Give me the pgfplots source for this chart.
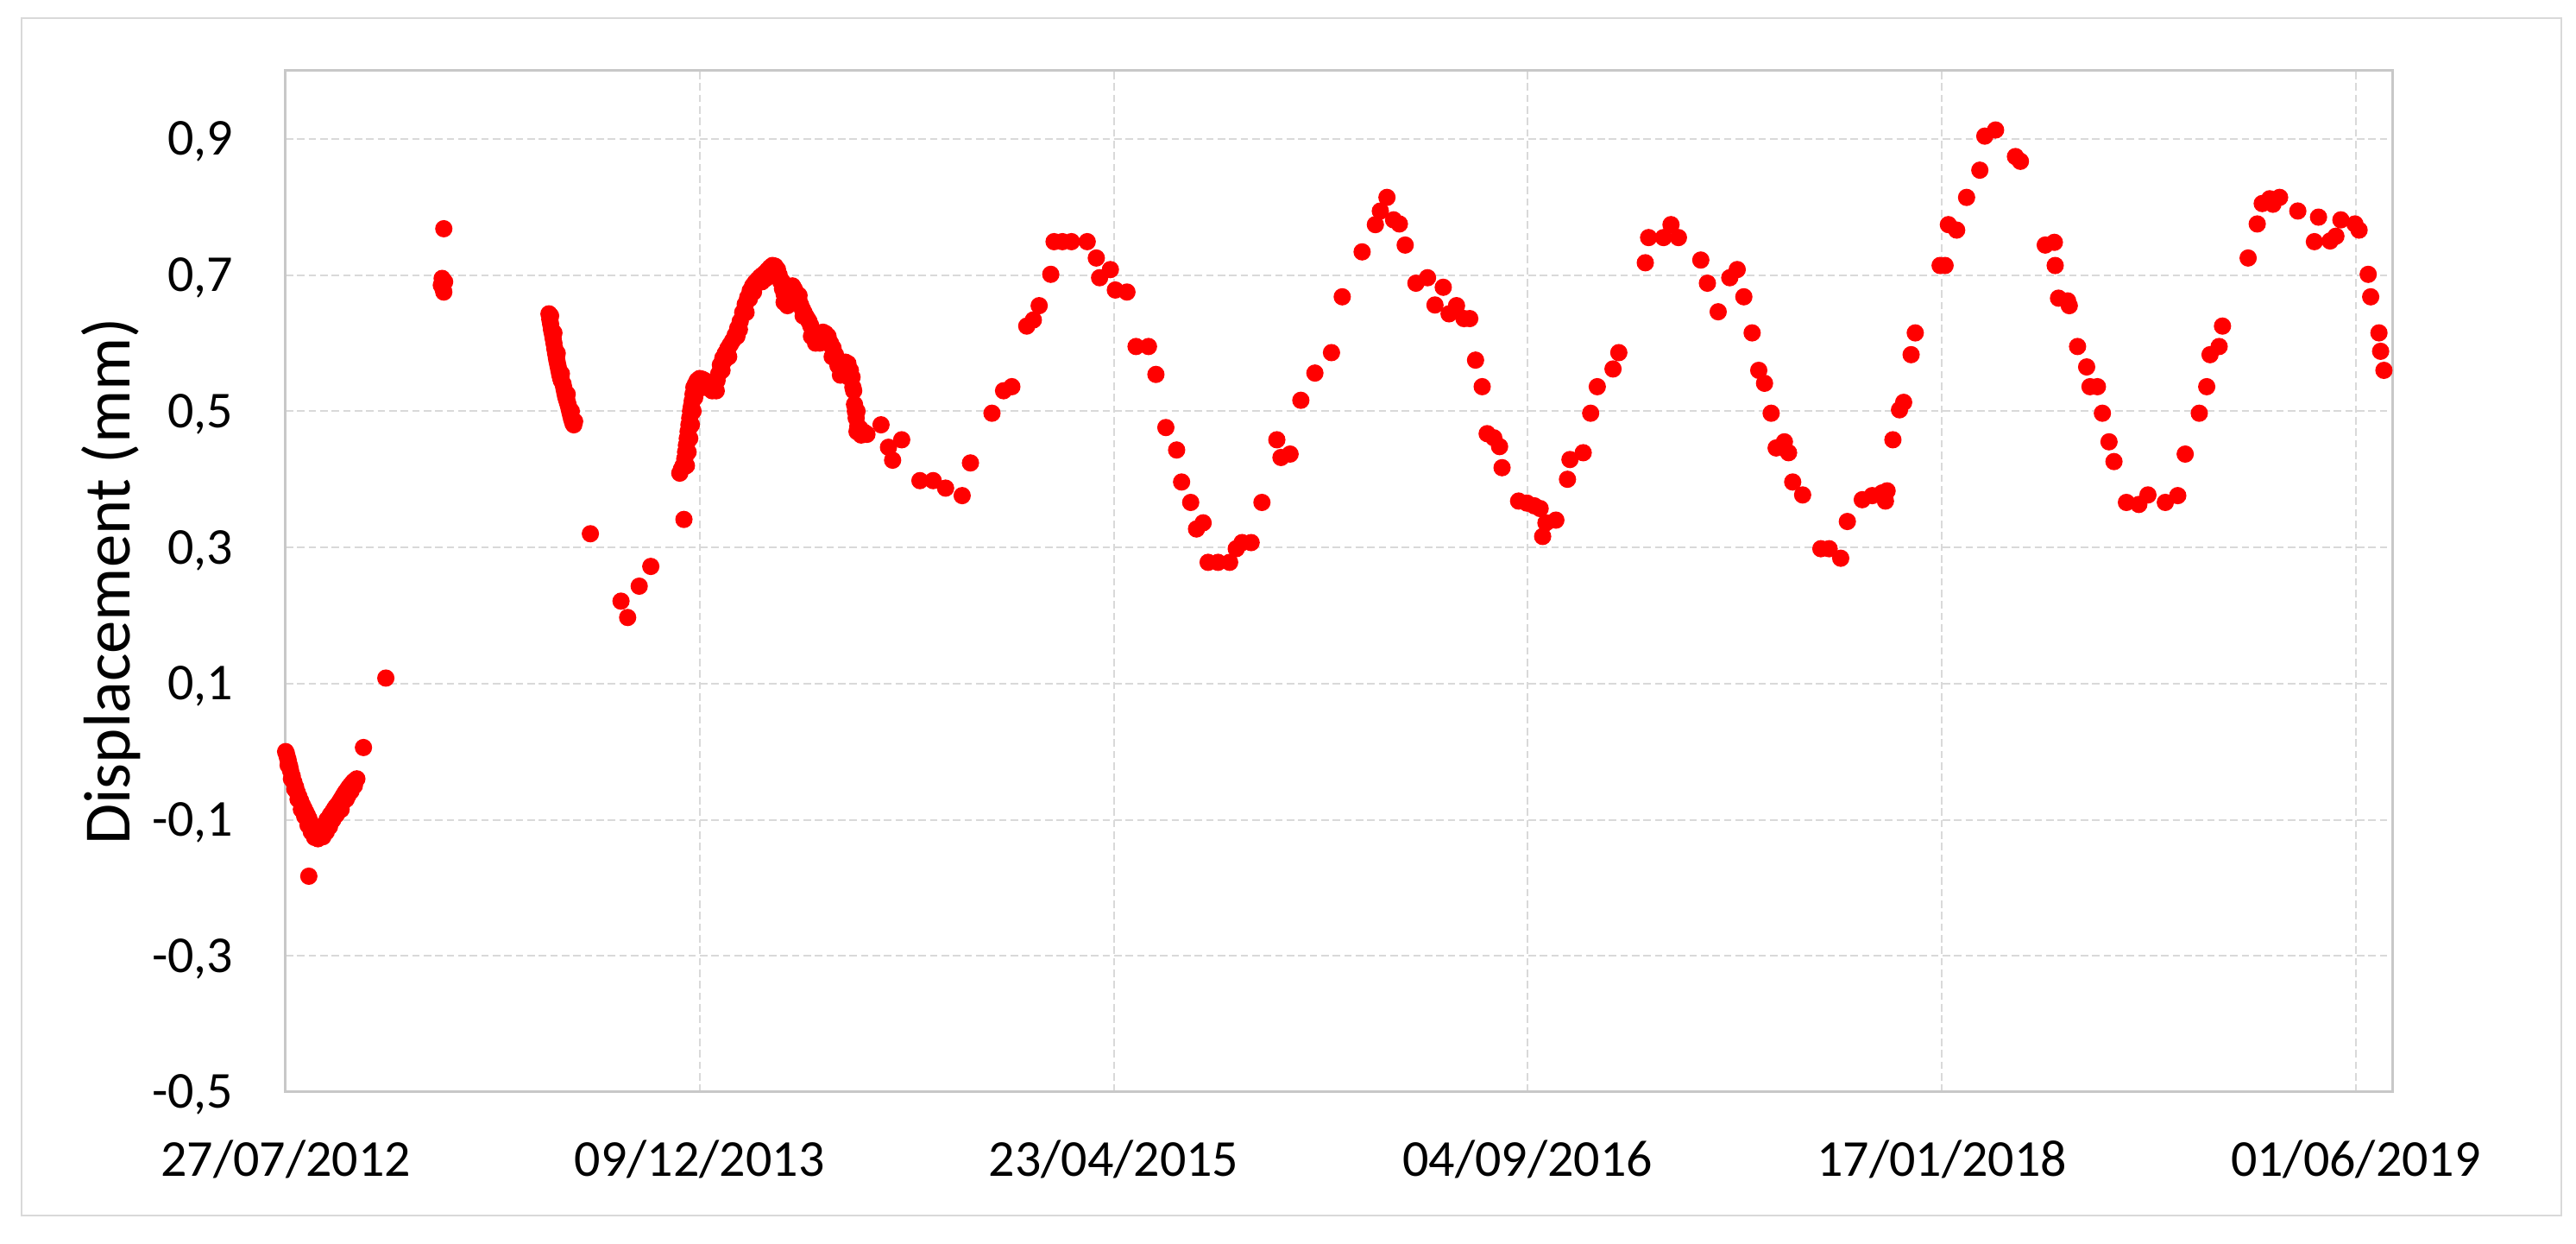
\documentclass[border=0pt]{standalone}
\usepackage{fontspec}
\setmainfont{Carlito}
\usepackage{pgfplots}
\pgfplotsset{compat=1.18}

\definecolor{gridgray}{HTML}{D9D9D9}
\definecolor{boxgray}{HTML}{C8C8C8}
\definecolor{framegray}{HTML}{D9D9D9}

\begin{document}
\begin{tikzpicture}
\begin{axis}[
    scale only axis,
    width=366.3pt, height=177.45pt,
    xmin=0, xmax=2545,
    ymin=-0.5, ymax=1.0,
    xtick={0,500,1000,1500,2000,2500},
    xticklabels={27/07/2012,09/12/2013,23/04/2015,04/09/2016,17/01/2018,01/06/2019},
    ytick={-0.5,-0.3,-0.1,0.1,0.3,0.5,0.7,0.9},
    yticklabels={{-0,5},{-0,3},{-0,1},{0,1},{0,3},{0,5},{0,7},{0,9}},
    major tick length=0pt,
    grid=major,
    major grid style={draw=gridgray, line width=0.3pt, dash pattern=on 1.3pt off 0.7pt},
    axis line style={draw=boxgray, line width=0.45pt},
    tick label style={font=\fontsize{9pt}{10pt}\selectfont, text=black},
    xticklabel style={anchor=base, yshift=-14.7pt, inner sep=0pt},
    yticklabel style={anchor=base east, xshift=-8.9pt, yshift=-2.85pt, inner sep=0pt},
    ylabel={Displacement (mm)},
    ylabel style={at={(axis description cs:-0.0741,0.5)}, anchor=base, inner sep=0pt,
                  font=\fontsize{11.5pt}{13pt}\selectfont},
    clip=false,
]
\addplot[only marks, mark=*, mark size=1.3pt, draw=red, fill=red,
         mark options={draw=red, fill=red}] coordinates {
% first descent and recovery
(0,0.0) (1,-0.003) (2,-0.008) (3,-0.012) (4,-0.018) (5,-0.022) (6,-0.028)
(8,-0.036) (10,-0.045) (12,-0.052) (14,-0.06) (16,-0.066) (18,-0.072)
(20,-0.078) (22,-0.083) (24,-0.088) (26,-0.093) (28,-0.098) (30,-0.104)
(32,-0.109) (33,-0.12) (34,-0.113) (36,-0.117) (37,-0.125) (38,-0.12)
(40,-0.121) (41,-0.124) (42,-0.118) (44,-0.115) (46,-0.11) (48,-0.107)
(50,-0.1) (50,-0.11) (52,-0.098) (54,-0.093) (55,-0.1) (56,-0.09)
(58,-0.086) (60,-0.082) (60,-0.09) (62,-0.079) (64,-0.076) (65,-0.08)
(66,-0.072) (68,-0.068) (70,-0.064) (70,-0.073) (72,-0.06) (74,-0.057)
(75,-0.065) (76,-0.053) (78,-0.05) (80,-0.047) (82,-0.044) (84,-0.042)
(86,-0.04)
(3,-0.02) (7,-0.04) (11,-0.055) (15,-0.07) (19,-0.085) (23,-0.095)
(27,-0.108) (31,-0.118) (35,-0.126) (39,-0.128) (45,-0.125) (49,-0.118)
(53,-0.11) (57,-0.1) (61,-0.093) (67,-0.085) (73,-0.07) (79,-0.058)
(83,-0.05)
(28,-0.183) (94,0.006) (121,0.108)
% cluster
(191,0.768) (189,0.695) (190,0.68) (192,0.69) (191,0.675) (188,0.685)
% steep segment
(318,0.643) (319,0.635) (320,0.628) (321,0.62) (322,0.614) (323,0.607)
(324,0.6) (325,0.592) (326,0.585) (327,0.578) (328,0.572) (329,0.566)
(330,0.56) (331,0.554) (332,0.549) (333,0.545) (335,0.54) (336,0.534)
(337,0.528) (338,0.522) (339,0.518) (340,0.514) (341,0.51) (342,0.505)
(343,0.5) (344,0.495) (345,0.49) (346,0.486) (347,0.482) (348,0.48)
(320,0.64) (324,0.615) (328,0.585) (333,0.555) (340,0.525) (345,0.5)
(349,0.485)
(368,0.32) (405,0.221) (413,0.197) (427,0.243) (441,0.272) (481,0.341)
% dense rise and peak
(476,0.409) (478,0.415) (480,0.42) (482,0.43) (483,0.44) (484,0.45)
(485,0.46) (486,0.47) (487,0.48) (488,0.49) (489,0.5) (490,0.507)
(491,0.515) (492,0.525) (493,0.535) (495,0.54) (497,0.545) (500,0.548)
(503,0.547) (506,0.545) (509,0.543) (512,0.542) (515,0.54) (518,0.541)
(521,0.545) (523,0.555) (525,0.568) (528,0.578) (531,0.585) (534,0.592)
(537,0.598) (540,0.604) (543,0.612) (546,0.622) (549,0.632) (552,0.645)
(555,0.657) (558,0.667) (561,0.677) (564,0.684) (567,0.689) (570,0.693)
(573,0.697) (576,0.7) (579,0.703) (582,0.707) (585,0.711) (588,0.714)
(591,0.713) (594,0.708) (596,0.7) (598,0.69) (600,0.68) (602,0.672)
(604,0.665) (606,0.668) (608,0.675) (610,0.682) (612,0.684) (614,0.68)
(616,0.675) (618,0.668) (620,0.662) (622,0.656) (624,0.65) (626,0.645)
(628,0.64) (630,0.636) (632,0.632) (634,0.626) (636,0.62) (638,0.614)
(640,0.61) (643,0.612) (646,0.614) (649,0.616) (652,0.614) (655,0.61)
(658,0.6) (661,0.593) (664,0.583) (667,0.567) (670,0.563) (673,0.568)
(676,0.572) (679,0.57) (682,0.56) (684,0.55) (686,0.53) (687,0.51)
(688,0.5) (689,0.49) (691,0.478) (694,0.474) (697,0.47) (700,0.468)
(702,0.466)
(530,0.575) (545,0.61) (560,0.665) (575,0.69) (600,0.69) (620,0.67)
(640,0.6) (660,0.58) (680,0.55) (690,0.47)
(484,0.42) (486,0.44) (488,0.46) (490,0.48) (492,0.5) (494,0.52)
(496,0.53) (505,0.535) (515,0.53) (520,0.53) (527,0.56) (535,0.58)
(548,0.62) (556,0.645) (565,0.675) (580,0.695) (592,0.7) (602,0.66)
(606,0.655) (614,0.67) (625,0.64) (635,0.61) (645,0.6) (655,0.6)
(662,0.58) (670,0.553) (680,0.56) (685,0.535) (690,0.5) (695,0.465)
% sparse series
(719,0.48) (728,0.447) (733,0.428) (744,0.458) (766,0.398) (782,0.398)
(797,0.387) (817,0.376) (827,0.424) (853,0.497) (867,0.53) (877,0.536)
(895,0.625) (903,0.634) (910,0.655) (924,0.701) (928,0.749) (938,0.749)
(949,0.749) (968,0.749) (979,0.725) (983,0.696) (996,0.708) (1002,0.678)
(1016,0.675) (1027,0.595) (1042,0.595) (1051,0.554) (1063,0.476)
(1076,0.443) (1082,0.396) (1093,0.366) (1100,0.327) (1108,0.336)
(1114,0.278) (1126,0.278) (1140,0.278) (1148,0.298) (1155,0.307)
(1166,0.307) (1179,0.366) (1197,0.458) (1202,0.432) (1213,0.437)
(1226,0.516) (1243,0.556) (1263,0.586) (1276,0.668) (1300,0.734)
(1316,0.774) (1322,0.794) (1330,0.814) (1338,0.781) (1345,0.775)
(1352,0.744) (1365,0.688) (1379,0.696) (1388,0.656) (1398,0.682)
(1405,0.643) (1414,0.655) (1423,0.636) (1430,0.636) (1437,0.575)
(1445,0.536) (1451,0.467) (1459,0.461) (1466,0.448) (1469,0.417)
(1489,0.368) (1499,0.365) (1508,0.361) (1515,0.357) (1518,0.316)
(1522,0.336) (1534,0.34) (1548,0.4) (1551,0.429) (1567,0.439)
(1576,0.497) (1584,0.536) (1603,0.562) (1610,0.586) (1642,0.718)
(1646,0.755) (1664,0.755) (1673,0.774) (1682,0.755) (1709,0.722)
(1717,0.688) (1730,0.646) (1744,0.696) (1753,0.708) (1761,0.668)
(1771,0.615) (1779,0.56) (1786,0.541) (1794,0.497) (1800,0.446)
(1810,0.455) (1815,0.439) (1820,0.396) (1832,0.377) (1854,0.298)
(1864,0.298) (1878,0.284) (1886,0.338) (1904,0.37) (1916,0.376)
(1928,0.38) (1934,0.383) (1932,0.368) (1941,0.458) (1949,0.502)
(1954,0.513) (1963,0.583) (1968,0.615) (1998,0.714) (2004,0.714)
(2008,0.774) (2018,0.766) (2030,0.814) (2046,0.854) (2052,0.904)
(2065,0.913) (2089,0.874) (2095,0.867) (2125,0.744) (2136,0.748)
(2137,0.714) (2141,0.666) (2152,0.662) (2154,0.655) (2164,0.595)
(2175,0.565) (2179,0.536) (2188,0.536) (2194,0.497) (2202,0.455)
(2208,0.426) (2223,0.366) (2238,0.363) (2249,0.377) (2270,0.366)
(2285,0.376) (2294,0.437) (2311,0.497) (2320,0.536) (2324,0.583)
(2335,0.595) (2339,0.625) (2370,0.725) (2381,0.775) (2387,0.805)
(2396,0.812) (2400,0.804) (2408,0.814) (2430,0.794) (2450,0.749)
(2455,0.785) (2469,0.75) (2476,0.757) (2482,0.781) (2499,0.775)
(2504,0.766) (2515,0.701) (2518,0.668) (2528,0.615) (2530,0.588)
(2534,0.56)
};
\end{axis}
\begin{scope}[shift={(current axis.south west)}]
  \draw[framegray, line width=0.35pt] (-45.9pt,-21.45pt) rectangle (395.55pt,186.6pt);
  \path (-49.65pt,-26.4pt) rectangle (398.1pt,189.75pt);
\end{scope}
\end{tikzpicture}
\end{document}
